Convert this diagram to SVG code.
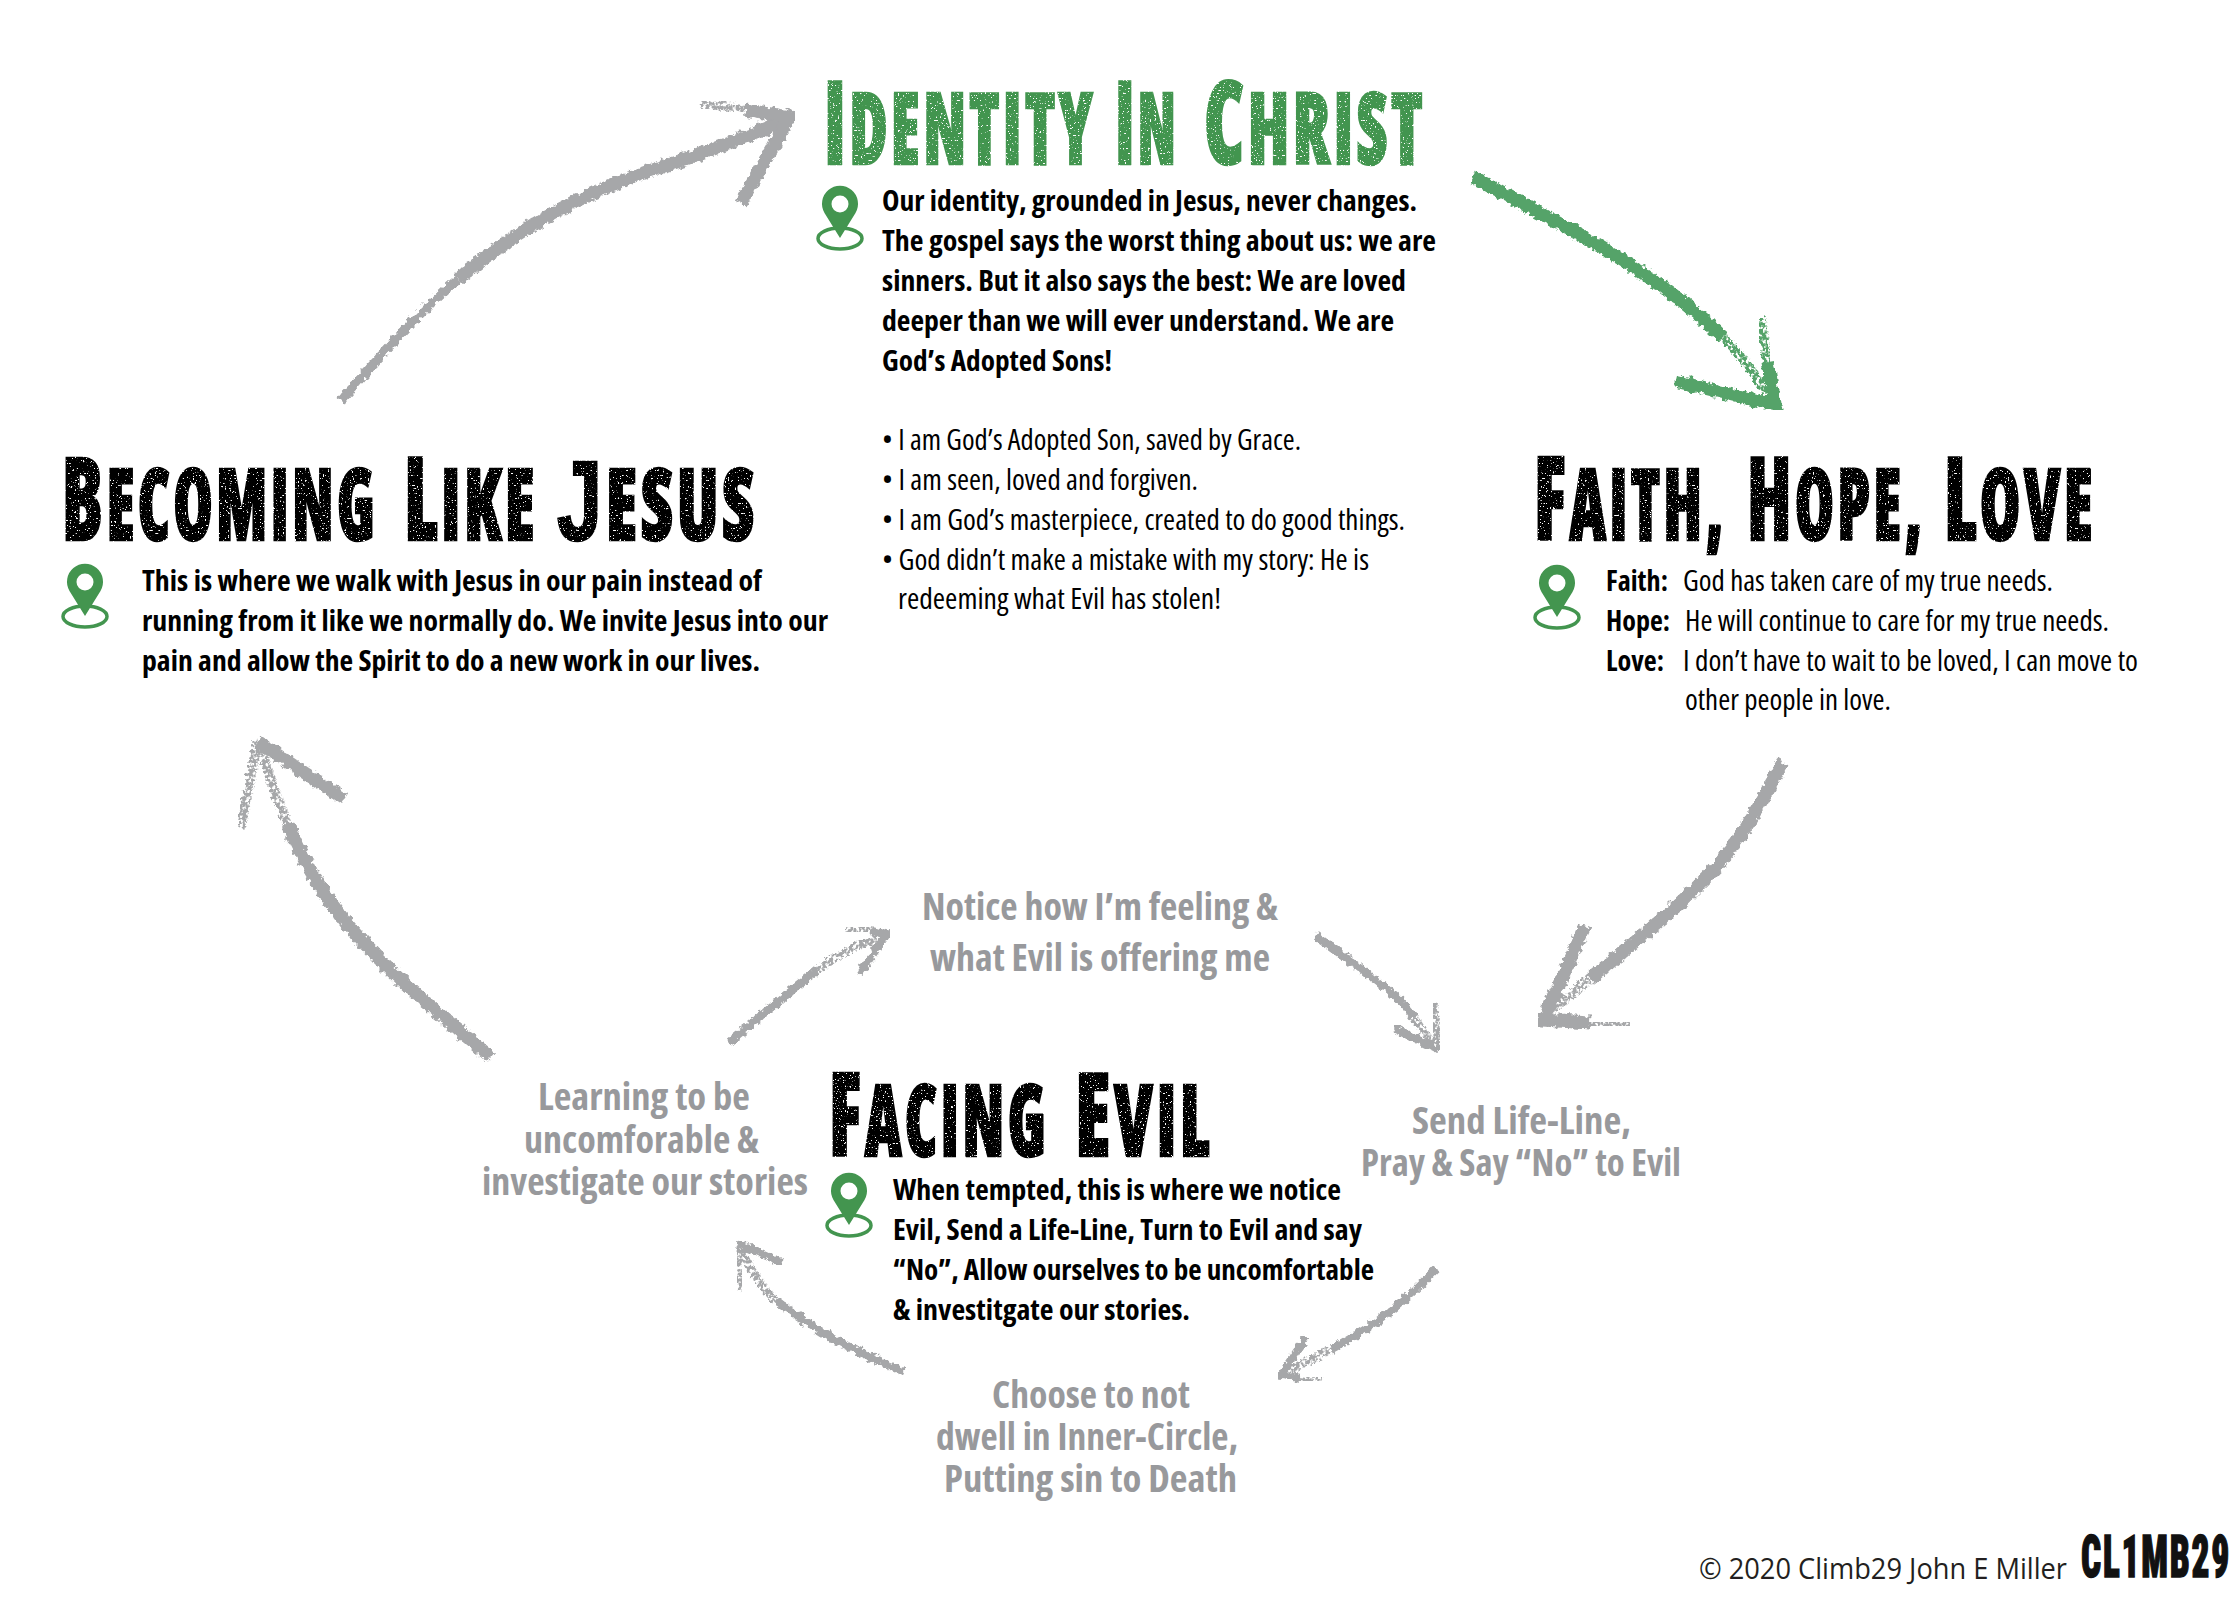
<svg xmlns="http://www.w3.org/2000/svg" width="2238" height="1598" viewBox="0 0 2238 1598">
<style>
text{font-family:"Open Sans","Noto Sans","Liberation Sans",sans-serif;font-stretch:condensed}
.b{font-size:29px;font-weight:700;fill:#000}
.r{font-size:29px;font-weight:400;fill:#000}
.g{font-size:37px;font-weight:700;fill:#98999c}
.h{font-family:Roboto,"Liberation Sans",sans-serif;font-size:100px;font-weight:900;stroke-width:2.500px;stroke-linejoin:miter;letter-spacing:5px}
.h .c{font-size:116px}
.h .j{font-family:"Liberation Sans",sans-serif;font-size:114px;font-weight:700}
.k{fill:#000;stroke:#000}
.gr{fill:#43954f;stroke:#43954f}
.copy{font-size:29px;fill:#231f20;font-stretch:normal}
.logo{font-family:Roboto,"Liberation Sans",sans-serif;font-size:60px;font-weight:900;fill:#111;stroke:#111;stroke-width:1.500px;letter-spacing:3px}
.ch{fill:none;stroke-linecap:butt;stroke-linejoin:miter;filter:url(#chalk)}
.sp{fill:none;stroke-linecap:butt;filter:url(#sparse)}
.cg{stroke:#a6a7a9}
.cn{stroke:#54a369}
.w1{stroke-width:13px}
.w2{stroke-width:8px}
.w3{stroke-width:9px}
</style>
<defs>
<filter id="chalk" x="-10%" y="-10%" width="120%" height="120%">
<feTurbulence type="fractalNoise" baseFrequency="0.18" numOctaves="3" seed="4" result="n"/>
<feDisplacementMap in="SourceGraphic" in2="n" scale="8" xChannelSelector="R" yChannelSelector="G"/>
</filter>
<filter id="sparse" x="-15%" y="-15%" width="130%" height="130%">
<feTurbulence type="fractalNoise" baseFrequency="0.3" numOctaves="2" seed="9" result="n"/>
<feDisplacementMap in="SourceGraphic" in2="n" scale="9" xChannelSelector="R" yChannelSelector="G" result="d"/>
<feColorMatrix in="n" type="matrix" values="0 0 0 0 0 0 0 0 0 0 0 0 0 0 0 6 0 0 0 -2.100" result="m"/>
<feComposite in="d" in2="m" operator="in"/>
</filter>
<filter id="worn" x="-3%" y="-5%" width="106%" height="110%">
<feTurbulence type="fractalNoise" baseFrequency="0.6" numOctaves="2" seed="3" result="n"/>
<feColorMatrix in="n" type="matrix" values="0 0 0 0 0 0 0 0 0 0 0 0 0 0 0 0 -14 0 0 10.200" result="m"/>
<feComposite in="SourceGraphic" in2="m" operator="in"/>
</filter>
<g id="pin">
<ellipse cx="0" cy="34.5" rx="22" ry="10.5" fill="none" stroke="#43954f" stroke-width="3.5"/>
<path fill="#43954f" fill-rule="evenodd" d="M0 34L-15.500 9A18 18 0 1 1 15.500 9ZM0-8.500A8.500 8.500 0 1 0 0 8.500A8.500 8.500 0 1 0 0-8.500Z"/>
</g>
</defs>
<rect width="2238" height="1598" fill="#fff"/>

<g id="connectors">
<g id="arrow-identity-faith">
<path class="ch cn w1" d="M1473 177Q1567 227 1605 249.500Q1643 272 1672 294Q1701 316 1723.500 337.500"/>
<path class="sp cn w3" d="M1723.500 337.500Q1746 359 1766 392"/>
<path class="sp cn w3" d="M1761 318L1768 365"/>
<path class="ch cn w1" d="M1768 362L1775 405L1675 381"/>
</g>
<g id="arrow-faith-evil">
<path class="ch cg w1" d="M1783 762Q1740 845 1707 877Q1675 909 1636 941Q1610 963 1590 979"/>
<path class="sp cg w3" d="M1590 979L1545 1016"/>
<path class="ch cg w1" d="M1585 926L1543 1020L1590 1023"/>
<path class="sp cg w3" d="M1590 1023L1630 1025"/>
</g>
<g id="arrow-evil-becoming">
<path class="ch cg w1" d="M491 1057Q415 995 380 960Q344 924 319 885Q300 855 288 825"/>
<path class="sp cg w3" d="M288 825Q272 785 262 750"/>
<path class="ch cg w1" d="M344 799L258 742"/>
<path class="sp cg w3" d="M258 742L241 828"/>
</g>
<g id="arrow-becoming-identity">
<path class="ch cg w3" d="M341 401Q415 315 458 279"/>
<path class="ch cg w1" d="M458 279Q501 243 551 214.500Q601 186 658 168Q716 150 790 118"/>
<path class="ch cg w1" d="M740 203L790 117L745 110"/>
<path class="sp cg w3" d="M745 110L702 103"/>
</g>
<g id="arrow-learning-notice">
<path class="ch cg w2" d="M729 1042Q792 990 818 970"/>
<path class="sp cg w2" d="M818 970Q843 950 885 936"/>
<path class="ch cg w2" d="M859 974L887 934L870 931"/>
<path class="sp cg w2" d="M870 931L846 928"/>
</g>
<g id="arrow-notice-send">
<path class="ch cg w2" d="M1315 935Q1366 972 1388 990Q1405 1004 1414 1018"/>
<path class="sp cg w2" d="M1414 1018L1436 1048"/>
<path class="ch cg w2" d="M1394 1028L1439 1050"/>
<path class="sp cg w2" d="M1434 1003L1439 1050"/>
</g>
<g id="arrow-send-choose">
<path class="ch cg w2" d="M1437 1268Q1399 1307 1376 1322Q1353 1338 1330 1350"/>
<path class="sp cg w2" d="M1330 1350L1283 1374"/>
<path class="ch cg w2" d="M1307 1336L1281 1375L1300 1378"/>
<path class="sp cg w2" d="M1300 1378L1322 1380"/>
</g>
<g id="arrow-choose-learning">
<path class="ch cg w2" d="M904 1372Q848 1348 822 1332Q797 1317 776 1300"/>
<path class="sp cg w2" d="M776 1300Q756 1283 740 1246"/>
<path class="ch cg w2" d="M782 1263L738 1243"/>
<path class="sp cg w2" d="M738 1243L741 1290"/>
</g>
</g>

<g id="node-identity">
<g class="h gr" filter="url(#worn)">
<text x="824" y="164" textLength="272" lengthAdjust="spacingAndGlyphs"><tspan class="c">I</tspan>DENTITY</text>
<text x="1115" y="164" textLength="64" lengthAdjust="spacingAndGlyphs"><tspan class="c">I</tspan>N</text>
<text x="1204" y="164" textLength="222" lengthAdjust="spacingAndGlyphs"><tspan class="c">C</tspan>HRIST</text>
</g>
<use href="#pin" x="840" y="204"/>
<text class="b" x="882" y="211" textLength="535" lengthAdjust="spacingAndGlyphs">Our identity, grounded in Jesus, never changes.</text>
<text class="b" x="882" y="251" textLength="554" lengthAdjust="spacingAndGlyphs">The gospel says the worst thing about us: we are</text>
<text class="b" x="882" y="291" textLength="524" lengthAdjust="spacingAndGlyphs">sinners. But it also says the best: We are loved</text>
<text class="b" x="882" y="331" textLength="512" lengthAdjust="spacingAndGlyphs">deeper than we will ever understand. We are</text>
<text class="b" x="882" y="371" textLength="230" lengthAdjust="spacingAndGlyphs">God’s Adopted Sons!</text>
<text class="r" x="882" y="450" textLength="419" lengthAdjust="spacingAndGlyphs">• I am God’s Adopted Son, saved by Grace.</text>
<text class="r" x="882" y="490" textLength="316" lengthAdjust="spacingAndGlyphs">• I am seen, loved and forgiven.</text>
<text class="r" x="882" y="530" textLength="523" lengthAdjust="spacingAndGlyphs">• I am God’s masterpiece, created to do good things.</text>
<text class="r" x="882" y="570" textLength="487" lengthAdjust="spacingAndGlyphs">• God didn’t make a mistake with my story: He is</text>
<text class="r" x="898" y="609" textLength="323" lengthAdjust="spacingAndGlyphs">redeeming what Evil has stolen!</text>
</g>

<g id="node-faith">
<g class="h k" filter="url(#worn)">
<text x="1534" y="540" textLength="192" lengthAdjust="spacingAndGlyphs"><tspan class="c">F</tspan>AITH,</text>
<text x="1747" y="540" textLength="178" lengthAdjust="spacingAndGlyphs"><tspan class="c">H</tspan>OPE,</text>
<text x="1944" y="540" textLength="152" lengthAdjust="spacingAndGlyphs"><tspan class="c">L</tspan>OVE</text>
</g>
<use href="#pin" x="1557" y="583"/>
<text class="b" x="1611" y="591" textLength="62" lengthAdjust="spacingAndGlyphs" transform="translate(-5 0)">Faith:</text>
<text class="r" x="1683" y="591" textLength="370" lengthAdjust="spacingAndGlyphs">God has taken care of my true needs.</text>
<text class="b" x="1606" y="631" textLength="64" lengthAdjust="spacingAndGlyphs">Hope:</text>
<text class="r" x="1685" y="631" textLength="424" lengthAdjust="spacingAndGlyphs">He will continue to care for my true needs.</text>
<text class="b" x="1606" y="671" textLength="58" lengthAdjust="spacingAndGlyphs">Love:</text>
<text class="r" x="1683" y="671" textLength="455" lengthAdjust="spacingAndGlyphs">I don’t have to wait to be loved, I can move to</text>
<text class="r" x="1685" y="710" textLength="206" lengthAdjust="spacingAndGlyphs">other people in love.</text>
</g>

<g id="node-becoming">
<g class="h k" filter="url(#worn)">
<text x="62" y="540" textLength="316" lengthAdjust="spacingAndGlyphs"><tspan class="c">B</tspan>ECOMING</text>
<text x="404" y="540" textLength="134" lengthAdjust="spacingAndGlyphs"><tspan class="c">L</tspan>IKE</text>
<text x="557" y="540" textLength="201" lengthAdjust="spacingAndGlyphs"><tspan class="j">J</tspan>ESUS</text>
</g>
<use href="#pin" x="85" y="582"/>
<text class="b" x="142" y="591" textLength="620" lengthAdjust="spacingAndGlyphs">This is where we walk with Jesus in our pain instead of</text>
<text class="b" x="142" y="631" textLength="686" lengthAdjust="spacingAndGlyphs">running from it like we normally do. We invite Jesus into our</text>
<text class="b" x="142" y="671" textLength="618" lengthAdjust="spacingAndGlyphs">pain and allow the Spirit to do a new work in our lives.</text>
</g>

<g id="node-facing">
<g class="h k" filter="url(#worn)">
<text x="829" y="1156" textLength="220" lengthAdjust="spacingAndGlyphs"><tspan class="c">F</tspan>ACING</text>
<text x="1075" y="1156" textLength="138" lengthAdjust="spacingAndGlyphs"><tspan class="c">E</tspan>VIL</text>
</g>
<use href="#pin" x="849" y="1191"/>
<text class="b" x="893" y="1200" textLength="448" lengthAdjust="spacingAndGlyphs">When tempted, this is where we notice</text>
<text class="b" x="893" y="1240" textLength="469" lengthAdjust="spacingAndGlyphs">Evil, Send a Life-Line, Turn to Evil and say</text>
<text class="b" x="893" y="1280" textLength="481" lengthAdjust="spacingAndGlyphs">“No”, Allow ourselves to be uncomfortable</text>
<text class="b" x="893" y="1320" textLength="297" lengthAdjust="spacingAndGlyphs">&amp; investitgate our stories.</text>
</g>

<g id="node-notice">
<text class="g" x="922" y="920" textLength="356" lengthAdjust="spacingAndGlyphs">Notice how I’m feeling &amp;</text>
<text class="g" x="930" y="971" textLength="340" lengthAdjust="spacingAndGlyphs">what Evil is offering me</text>
</g>
<g id="node-send">
<text class="g" x="1412" y="1134" textLength="219" lengthAdjust="spacingAndGlyphs">Send Life-Line,</text>
<text class="g" x="1361" y="1176" textLength="320" lengthAdjust="spacingAndGlyphs">Pray &amp; Say “No” to Evil</text>
</g>
<g id="node-choose">
<text class="g" x="992" y="1408" textLength="198" lengthAdjust="spacingAndGlyphs">Choose to not</text>
<text class="g" x="936" y="1450" textLength="302" lengthAdjust="spacingAndGlyphs">dwell in Inner-Circle,</text>
<text class="g" x="944" y="1492" textLength="293" lengthAdjust="spacingAndGlyphs">Putting sin to Death</text>
</g>
<g id="node-learning">
<text class="g" x="538" y="1110" textLength="212" lengthAdjust="spacingAndGlyphs">Learning to be</text>
<text class="g" x="524" y="1153" textLength="235" lengthAdjust="spacingAndGlyphs">uncomforable &amp;</text>
<text class="g" x="482" y="1195" textLength="326" lengthAdjust="spacingAndGlyphs">investigate our stories</text>
</g>

<g id="footer">
<text class="copy" x="1699" y="1579" textLength="368" lengthAdjust="spacingAndGlyphs">© 2020 Climb29 John E Miller</text>
<text class="logo" x="2081" y="1577" textLength="150" lengthAdjust="spacingAndGlyphs">CL1MB29</text>
</g>
</svg>
